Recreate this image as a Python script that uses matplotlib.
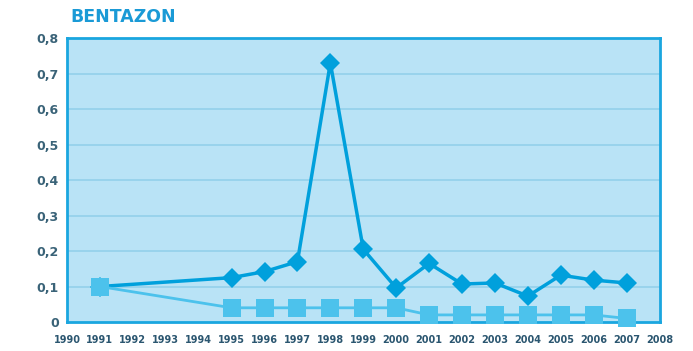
import matplotlib
matplotlib.use("Agg")
import matplotlib.pyplot as plt
from matplotlib.ticker import FixedLocator, FuncFormatter

years = list(range(1990, 2009))
diamond_years = [1991, 1995, 1996, 1997, 1998, 1999, 2000, 2001, 2002, 2003, 2004, 2005, 2006, 2007]
diamond_vals = [0.10, 0.125, 0.142, 0.17, 0.73, 0.205, 0.096, 0.165, 0.107, 0.11, 0.073, 0.132, 0.118, 0.11]
square_years = [1991, 1995, 1996, 1997, 1998, 1999, 2000, 2001, 2002, 2003, 2004, 2005, 2006, 2007]
square_vals = [0.10, 0.04, 0.04, 0.04, 0.04, 0.04, 0.04, 0.02, 0.02, 0.02, 0.02, 0.02, 0.02, 0.01]
y_ticks = [0, 0.1, 0.2, 0.3, 0.4, 0.5, 0.6, 0.7, 0.8]

fig = plt.figure(figsize=(6.93, 3.51), dpi=100)
ax = fig.add_axes([0.0967, 0.0826, 0.855, 0.809])
ax.set_facecolor("#b9e3f6")
ax.set_xlim(1990, 2008)
ax.set_ylim(0, 0.8)
for y in y_ticks[1:-1]:
    ax.axhline(y, color="#93d0ea", lw=1.2, zorder=1)
for s in ax.spines.values():
    s.set_color("#1aa6df")
    s.set_linewidth(2)

ax.plot(diamond_years, diamond_vals, color="#00a0dc", lw=2.5, marker="D", ms=10.5,
        markeredgewidth=0, zorder=3, clip_on=False)
ax.plot(square_years, square_vals, color="#4cc2ec", lw=2, marker="s", ms=12.5,
        markeredgewidth=0, zorder=4, clip_on=False)

ax.xaxis.set_major_locator(FixedLocator(years))
ax.set_xticklabels([str(y) for y in years], fontsize=7, color="#2b5670",
                   family=["Liberation Sans Narrow", "DejaVu Sans"], fontweight="bold")
ax.yaxis.set_major_locator(FixedLocator(y_ticks))
ax.yaxis.set_major_formatter(FuncFormatter(lambda v, p: "0" if v == 0 else f"{v:.1f}".replace(".", ",")))
for lab in ax.get_yticklabels():
    lab.set_fontsize(9)
    lab.set_color("#3a6378")
    lab.set_fontweight("bold")
ax.tick_params(axis="both", length=0, pad=6)
ax.tick_params(axis="x", pad=9)

fig.text(0.101, 0.925, "BENTAZON", color="#1a9ad6", fontsize=12.5,
         fontweight="heavy", ha="left", va="bottom")
fig.savefig("out.png", dpi=100)
